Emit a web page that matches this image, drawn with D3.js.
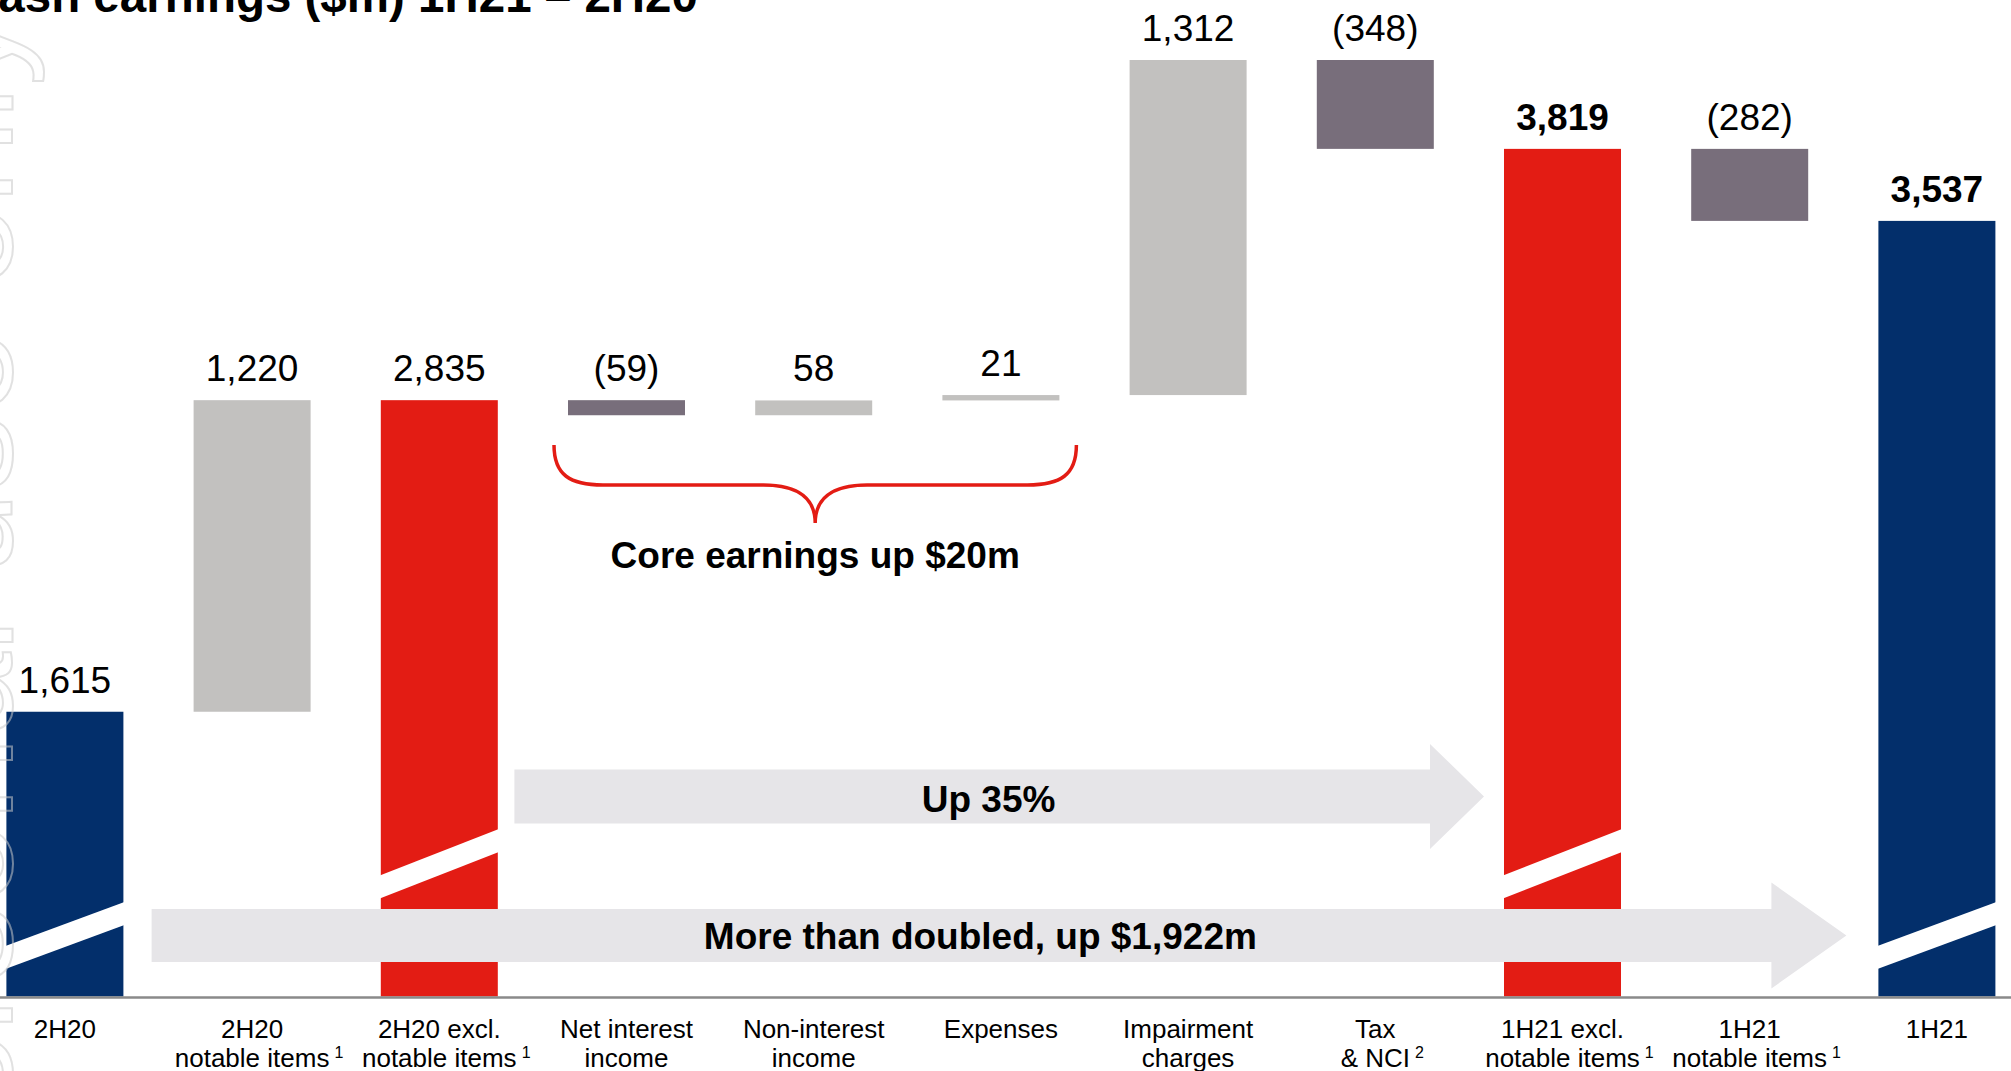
<!DOCTYPE html>
<html>
<head>
<meta charset="utf-8">
<script src="https://cdn.jsdelivr.net/npm/d3@7"></script>
<style>
  body { margin: 0; background: #fff; }
  svg { display: block; font-family: "Liberation Sans", Arial, Helvetica, sans-serif; }
</style>
</head>
<body>
<svg id="chart" width="2011" height="1071"></svg>
<script>
// Cash earnings bridge, 2H20 to 1H21 ($m)
const categories = [
  "2H20", "2H20 notable items", "2H20 excl. notable items",
  "Net interest income", "Non-interest income", "Expenses",
  "Impairment charges", "Tax & NCI",
  "1H21 excl. notable items", "1H21 notable items", "1H21"
];
const labelLines = [
  ["2H20", ""], ["2H20", "notable items"], ["2H20 excl.", "notable items"],
  ["Net interest", "income"], ["Non-interest", "income"], ["Expenses", ""],
  ["Impairment", "charges"], ["Tax", "& NCI"],
  ["1H21 excl.", "notable items"], ["1H21", "notable items"], ["1H21", ""]
];
const footnotes = ["", "1", "1", "", "", "", "", "2", "1", "1", ""];
const values = [1615, 1220, 2835, -59, 58, 21, 1312, -348, 3819, -282, 3537];
// "reported" / "underlying" are totals, "step" bars move from the running total
const kinds = ["reported", "step", "underlying", "step", "step", "step", "step", "step", "underlying", "step", "reported"];
const emphasised = ["1H21 excl. notable items", "1H21"];
const axisFloor = 500;   // part of every total hidden by the axis break

const arrowNotes = [
  { from: "2H20 excl. notable items", to: "1H21 excl. notable items", text: "Up 35%" },
  { from: "2H20", to: "1H21", text: "More than doubled, up $1,922m" }
];
const braceGroup = { from: "Net interest income", to: "Expenses", text: "Core earnings up $20m" };
const title = "Cash earnings ($m) 1H21 \u2013 2H20";
const watermark = "For personal use only";

// ---- styling ----
const colours = {
  reported: "#032f6b",
  underlying: "#e31c14",
  increase: "#c2c1bf",
  decrease: "#786e7b",
  arrow: "#e6e5e8",
  axis: "#8a8a8a",
  brace: "#e31c14"
};
const breakShape = {       // white slash across the total bars
  reported:   { offset: 50.5, rise: 44, thick: 23 },
  underlying: { offset: 121,  rise: 46.5, thick: 23 }
};

// ---- waterfall geometry ----
let running = 0;
const bars = categories.map((c, i) => {
  const v = values[i];
  let lo, hi;
  if (kinds[i] === "step") {
    lo = Math.min(running, running + v);
    hi = Math.max(running, running + v);
    running += v;
  } else {
    lo = axisFloor; hi = v; running = v;
  }
  return { c, i, v, lo, hi, kind: kinds[i] };
});

const svg = d3.select("#chart");
const W = 2011;

const x = d3.scaleBand()
  .domain(categories)
  .range([-28.7, 2030.5])
  .paddingInner(0.375)
  .paddingOuter(0.1875);
const bw = x.bandwidth();

const y = d3.scaleLinear()
  .domain([axisFloor, d3.max(bars, d => d.hi)])
  .range([996.5, 60]);
const base = y(axisFloor);

const fillOf = d => d.kind === "step" ? (d.v < 0 ? colours.decrease : colours.increase) : colours[d.kind];

// title (runs off the top-left corner)
svg.append("text")
  .attr("x", -36).attr("y", 12)
  .attr("font-size", 47.5).attr("font-weight", "bold")
  .attr("fill", "#000")
  .text(title);

// bars
svg.append("g").selectAll("rect")
  .data(bars)
  .join("rect")
  .attr("x", d => x(d.c))
  .attr("y", d => y(d.hi))
  .attr("width", bw)
  .attr("height", d => Math.max(1, y(d.lo) - y(d.hi)))
  .attr("fill", fillOf);

// axis breaks on the totals
svg.append("g").selectAll("polygon")
  .data(bars.filter(d => d.kind !== "step"))
  .join("polygon")
  .attr("fill", "#fff")
  .attr("points", d => {
    const s = breakShape[d.kind];
    const x0 = x(d.c) - 1, x1 = x(d.c) + bw + 1;
    const yl = base - s.offset, yr = base - s.offset - s.rise;
    return [[x0, yl], [x1, yr], [x1, yr + s.thick], [x0, yl + s.thick]].map(p => p.join(",")).join(" ");
  });

// value labels
const fmt = d3.format(",");
svg.append("g").selectAll("text")
  .data(bars)
  .join("text")
  .attr("x", d => x(d.c) + bw / 2)
  .attr("y", d => y(d.hi) - 19)
  .attr("text-anchor", "middle")
  .attr("font-size", 37)
  .attr("font-weight", d => emphasised.includes(d.c) ? "bold" : "normal")
  .attr("fill", "#000")
  .text(d => d.v < 0 ? `(${fmt(-d.v)})` : fmt(d.v));

// growth arrows
const arrowGeom = [
  { startGap: 16.6, tipGap: 20, cy: 796.5, body: 27, head: 52.6, headLen: 54, dy: 15 },
  { startGap: 28.2, tipGap: 32, cy: 935.5, body: 26.5, head: 53, headLen: 75, dy: 13 }
];
arrowNotes.forEach((a, k) => {
  const g = arrowGeom[k];
  const x0 = x(a.from) + bw + g.startGap;
  const xt = x(a.to) - g.tipGap;
  const xh = xt - g.headLen;
  const pts = [
    [x0, g.cy - g.body], [xh, g.cy - g.body], [xh, g.cy - g.head], [xt, g.cy],
    [xh, g.cy + g.head], [xh, g.cy + g.body], [x0, g.cy + g.body]
  ];
  svg.append("polygon")
    .attr("points", pts.map(p => p.join(",")).join(" "))
    .attr("fill", colours.arrow);
  svg.append("text")
    .attr("x", x0 + 0.489 * (xt - x0))
    .attr("y", g.cy + g.dy)
    .attr("text-anchor", "middle")
    .attr("font-size", 37).attr("font-weight", "bold")
    .attr("fill", "#000")
    .text(a.text);
});

// brace under the core earnings drivers
{
  const L = x(braceGroup.from) - 14;
  const R = x(braceGroup.to) + bw + 17;
  const M = (L + R) / 2;
  const top = 445, mid = 485, tip = 523;
  const p = d3.path();
  p.moveTo(L, top);
  p.bezierCurveTo(L, top + 30, L + 16, mid, L + 49, mid);
  p.lineTo(M - 52, mid);
  p.bezierCurveTo(M - 15, mid, M, mid + 15, M, tip);
  p.bezierCurveTo(M, mid + 15, M + 15, mid, M + 52, mid);
  p.lineTo(R - 49, mid);
  p.bezierCurveTo(R - 16, mid, R, top + 30, R, top);
  svg.append("path")
    .attr("d", p.toString())
    .attr("fill", "none")
    .attr("stroke", colours.brace)
    .attr("stroke-width", 3.5);
  svg.append("text")
    .attr("x", M).attr("y", 568)
    .attr("text-anchor", "middle")
    .attr("font-size", 37).attr("font-weight", "bold")
    .attr("fill", "#000")
    .text(braceGroup.text);
}

// baseline
svg.append("line")
  .attr("x1", 0).attr("x2", W)
  .attr("y1", base + 1).attr("y2", base + 1)
  .attr("stroke", colours.axis)
  .attr("stroke-width", 2.5);

// category labels with footnote markers
const lab = svg.append("g").attr("font-size", 26).attr("fill", "#000");
categories.forEach((c, i) => {
  const cx = x(c) + bw / 2;
  const [l1, l2] = labelLines[i];
  lab.append("text").attr("x", cx).attr("y", 1038).attr("text-anchor", "middle").text(l1);
  if (l2) {
    const t = lab.append("text").attr("x", cx).attr("y", 1066.5).attr("text-anchor", "middle").text(l2);
    if (footnotes[i]) {
      const w = t.node().getComputedTextLength();
      lab.append("text")
        .attr("x", cx + w / 2 + 5).attr("y", 1058)
        .attr("font-size", 16)
        .text(footnotes[i]);
    }
  }
});

// faint vertical watermark along the left margin
svg.append("text")
  .attr("transform", "translate(12,10) rotate(-90)")
  .attr("text-anchor", "end")
  .attr("font-size", 152)
  .attr("fill", "none")
  .attr("stroke", "#c8c8c8")
  .attr("stroke-opacity", 0.55)
  .attr("stroke-width", 2)
  .text(watermark);
</script>
</body>
</html>
